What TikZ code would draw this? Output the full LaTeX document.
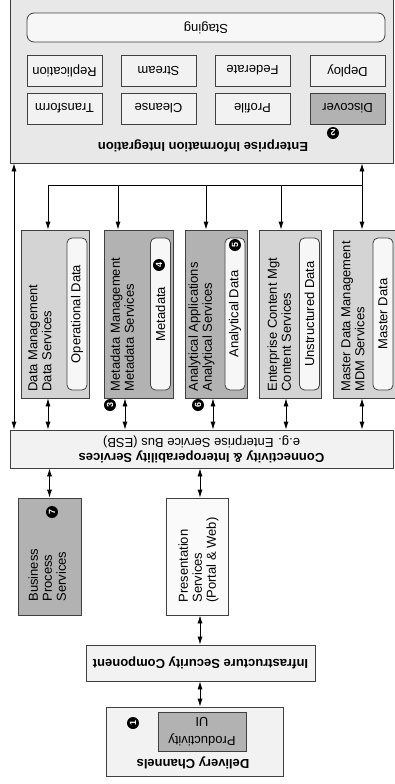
\documentclass[tikz,border=0pt]{standalone}
\usepackage{fontspec}
\setmainfont{Liberation Sans}
\usepackage{tikz}
\usetikzlibrary{arrows.meta}

\begin{document}
\begin{tikzpicture}[
    x=1pt, y=1pt, rotate=180, transform shape,
    box/.style={rectangle, draw=black!75, line width=0.8pt, inner sep=0pt,
                font=\fontsize{13}{14}\selectfont},
    pale/.style={box, fill=black!5},
    mid/.style={box, fill=black!17},
    dark/.style={box, fill=black!30},
    tool/.style={pale, minimum width=75pt, minimum height=31pt},
    store/.style={box, fill=black!3, rounded corners=5pt},
    vstore/.style={store, rotate=-90, minimum width=152pt, minimum height=20pt},
    lbl/.style={inner sep=0pt, align=left, rotate=-90, anchor=north west,
                font=\fontsize{13}{14}\selectfont},
    head/.style={inner sep=0pt, font=\fontsize{13}{14}\selectfont\bfseries},
    num/.style={circle, fill=black, text=white, inner sep=0pt,
                minimum size=12pt, font=\fontsize{9}{9}\selectfont\bfseries},
    numv/.style={num, rotate=-90},
    >={Latex[length=8pt, width=5pt]}, line width=0.8pt
  ]
  \useasboundingbox (0,0) rectangle (394,784);

  % delivery and security
  \node[pale, minimum width=177pt, minimum height=69pt] (chan) at (199.5,741.5) {};
  \node[head] (chantitle) at (201,763) {Delivery Channels};
  \node[dark, minimum width=88pt, minimum height=39pt, align=center] (prod) at (192,731.5) {Productivity\\[5pt]UI};
  \node[numv] (n1) at (261,723) {1};
  \node[pale, minimum width=229pt, minimum height=36pt, font=\fontsize{13}{14}\selectfont\bfseries] (isc) at (193.5,663) {Infrastructure Security Component};

  \node[box, fill=black!2, minimum width=62pt, minimum height=117pt] (pres) at (197,556.5) {};
  \node[lbl] (prestxt) at (216,603) {Presentation\\Services\\(Portal \& Web)};
  \node[dark, minimum width=63pt, minimum height=117pt] (bps) at (344.5,556.5) {};
  \node[lbl] (bpstxt) at (366,602) {Business\\Process\\Services};
  \node[numv] (n7) at (342,512) {7};

  \node[pale, minimum width=383pt, minimum height=38pt, align=center] (esb) at (192.5,449)
    {\bfseries Connectivity \& Interoperability Services\\[1pt]e.g. Enterprise Service Bus (ESB)};

  % data services
  \node[mid, minimum width=68pt, minimum height=168pt] (dm) at (339,314) {};
  \node[dark, minimum width=69pt, minimum height=168pt] (meta) at (255.5,314) {};
  \node[dark, minimum width=62pt, minimum height=168pt] (ana) at (178,314) {};
  \node[mid, minimum width=62pt, minimum height=168pt] (ecm) at (104,314) {};
  \node[mid, minimum width=65pt, minimum height=168pt] (mdm) at (28.5,314) {};
  \node[lbl] (dmtxt) at (366,392) {Data Management\\Data Services};
  \node[lbl] (metatxt) at (284,392) {Metadata Management\\Metadata Services};
  \node[lbl] (anatxt) at (206,392) {Analytical Applications\\Analytical Services};
  \node[lbl] (ecmtxt) at (127,392) {Enterprise Content Mgt\\Content Services};
  \node[lbl] (mdmtxt) at (53,392) {Master Data Management\\MDM Services};
  \node[vstore] (opdata) at (317,314) {Operational Data};
  \node[vstore] (metadata) at (233.5,314) {Metadata};
  \node[vstore] (anadata) at (159,314) {Analytical Data};
  \node[vstore] (unstr) at (84.5,314) {Unstructured Data};
  \node[vstore] (master) at (11,314) {Master Data};
  \node[numv] (n3) at (284,405) {3};
  \node[numv] (n4) at (235,265) {4};
  \node[numv] (n5) at (159,245) {5};
  \node[numv] (n6) at (196,405) {6};

  % information integration
  \node[box, fill=black!9, minimum width=383pt, minimum height=166pt] (eii) at (192.5,80) {};
  \node[head] (eiititle) at (191,146) {Enterprise Information Integration};
  \node[num] (n2) at (61,133) {2};
  \node[tool, fill=black!30] (disc) at (46.5,108.5) {Discover};
  \foreach \n/\t/\x in {prof/Profile/141.5, clns/Cleanse/235.5, trns/Transform/329.5}
    \node[tool] (\n) at (\x,108.5) {\t};
  \foreach \n/\t/\x in {depl/Deploy/46.5, fedr/Federate/141.5, strm/Stream/235.5, repl/Replication/329.5}
    \node[tool] (\n) at (\x,70.5) {\t};
  \node[store, rounded corners=7pt, minimum width=358pt, minimum height=29pt] (stg) at (188,27.5) {Staging};

  % connectors
  \coordinate (busl) at (32,185);
  \coordinate (busr) at (346,185);
  \draw (busl) -- (busr);
  \draw[<->] (eii.north -| 380,0) -- (esb.south -| 380,0);
  \draw[<->] (eii.north -| busl) -- (mdm.south -| busl);
  \foreach \n/\x in {ecm/113, ana/188, meta/276, dm/346}
    \draw[->] (busl -| \x,0) -- (\n.south -| \x,0);
  \foreach \n/\x in {mdm/32, ecm/108, ana/181, meta/269, dm/346}
    \draw[<->] (\n.north -| \x,0) -- (esb.south -| \x,0);
  \draw[<->] (esb.north -| bps) -- (bps.south);
  \draw[<->] (esb.north -| 194,0) -- (pres.south -| 194,0);
  \draw[<->] (pres.north -| 194,0) -- (isc.south -| 194,0);
  \draw[<->] (isc.north -| 194,0) -- (chan.south -| 194,0);
\end{tikzpicture}
\end{document}
